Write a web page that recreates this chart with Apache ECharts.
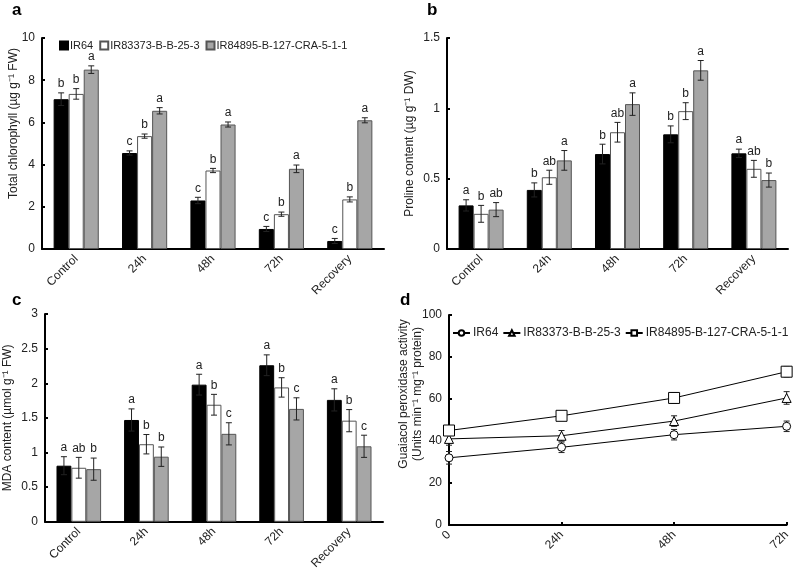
<!DOCTYPE html>
<html>
<head>
<meta charset="utf-8">
<script src="https://cdn.jsdelivr.net/npm/echarts@6/dist/echarts.min.js"></script>
<style>html,body{margin:0;padding:0;background:#fff;}#c{width:793px;height:572px;}</style>
</head>
<body>
<div id="c"></div>
<script>
const categories = ['Control', '24h', '48h', '72h', 'Recovery'];
const timeLabels = ['0', '24h', '48h', '72h'];
const seriesNames = ['IR64', 'IR83373-B-B-25-3', 'IR84895-B-127-CRA-5-1-1'];

// Panel a: total chlorophyll
const chlIR64 = [7.1, 4.55, 2.3, 0.95, 0.38];
const chlIR83373 = [7.35, 5.35, 3.72, 1.65, 2.35];
const chlIR84895 = [8.5, 6.55, 5.9, 3.8, 6.1];
const chlErrIR64 = [0.3, 0.1, 0.15, 0.12, 0.12];
const chlErrIR83373 = [0.25, 0.1, 0.1, 0.1, 0.12];
const chlErrIR84895 = [0.18, 0.15, 0.12, 0.18, 0.12];
const chlLetIR64 = ['b', 'c', 'c', 'c', 'c'];
const chlLetIR83373 = ['b', 'b', 'b', 'b', 'b'];
const chlLetIR84895 = ['a', 'a', 'a', 'a', 'a'];

// Panel b: proline
const proIR64 = [0.31, 0.42, 0.675, 0.815, 0.68];
const proIR83373 = [0.25, 0.51, 0.83, 0.98, 0.57];
const proIR84895 = [0.28, 0.63, 1.03, 1.27, 0.49];
const proErrIR64 = [0.04, 0.05, 0.07, 0.06, 0.03];
const proErrIR83373 = [0.06, 0.05, 0.07, 0.06, 0.06];
const proErrIR84895 = [0.05, 0.07, 0.08, 0.07, 0.05];
const proLetIR64 = ['a', 'b', 'b', 'b', 'a'];
const proLetIR83373 = ['b', 'ab', 'ab', 'b', 'ab'];
const proLetIR84895 = ['ab', 'a', 'a', 'a', 'b'];

// Panel c: MDA
const mdaIR64 = [0.81, 1.47, 1.98, 2.26, 1.76];
const mdaIR83373 = [0.78, 1.12, 1.69, 1.94, 1.46];
const mdaIR84895 = [0.76, 0.94, 1.27, 1.63, 1.09];
const mdaErrIR64 = [0.13, 0.16, 0.15, 0.15, 0.16];
const mdaErrIR83373 = [0.15, 0.14, 0.15, 0.14, 0.16];
const mdaErrIR84895 = [0.16, 0.14, 0.16, 0.16, 0.16];
const mdaLetIR64 = ['a', 'a', 'a', 'a', 'a'];
const mdaLetIR83373 = ['ab', 'b', 'b', 'b', 'b'];
const mdaLetIR84895 = ['b', 'b', 'c', 'c', 'c'];

// Panel d: guaiacol peroxidase
const gpxIR64 = [32, 37, 43, 47];
const gpxIR83373 = [41, 42.5, 49.5, 60.5];
const gpxIR84895 = [45, 52, 60.5, 73];
const gpxErrIR64 = [3, 2.5, 2.5, 2.5];
const gpxErrIR83373 = [3, 2.5, 2.5, 3];
const gpxErrIR84895 = [2, 2, 2.5, 2.5];

const FONT = 'Liberation Sans, Arial, sans-serif';
const TXT = '#222';
const barColors = ['#000000', '#ffffff', '#a6a6a6'];
const barBorders = ['#000000', '#555555', '#555555'];
const lineSymbols = ['circle', 'triangle', 'rect'];
const lineSymbolSizes = [8, 9, 11];
const CAT_GAP = 0.34;

const grids = [
  {left: 42, top: 38, width: 342, height: 211},
  {left: 447, top: 38, width: 341, height: 211},
  {left: 42, top: 314, width: 341, height: 212},
  {left: 449, top: 315, width: 339, height: 210}
];

function xCat(gi, data, showTicks, boundaryGap) {
  return {
    type: 'category', gridIndex: gi, data: data, boundaryGap: boundaryGap,
    axisLine: {lineStyle: {color: '#000', width: 2}},
    axisTick: {show: showTicks, inside: true, length: 3, alignWithLabel: true, lineStyle: {color: '#000', width: 2}},
    axisLabel: {rotate: 45, color: TXT, fontSize: 12, fontFamily: FONT, margin: 8, interval: 0}
  };
}
function yVal(gi, max, interval, name, nameGap, shift, fmt) {
  return {
    type: 'value', gridIndex: gi, min: 0, max: max, interval: interval,
    name: name, nameLocation: 'middle', nameGap: nameGap, nameMoveOverlap: false,
    nameTextStyle: {color: TXT, fontSize: 12, fontFamily: FONT, padding: shift > 0 ? [0, 0, 0, shift] : [0, -shift, 0, 0], lineHeight: 14},
    axisLine: {show: true, lineStyle: {color: '#000', width: 2}},
    axisTick: {show: true, inside: true, length: 3, lineStyle: {color: '#000', width: 2}},
    splitLine: {show: false},
    axisLabel: {color: TXT, fontSize: 12, fontFamily: FONT, margin: 7, formatter: fmt}
  };
}

const series = [];
function addBarPanel(gi, values, errs, lets) {
  for (let k = 0; k < 3; k++) {
    series.push({
      type: 'bar', name: seriesNames[k], xAxisIndex: gi, yAxisIndex: gi,
      data: values[k], barGap: '0%', barCategoryGap: (CAT_GAP * 100) + '%',
      itemStyle: {color: barColors[k], borderColor: barBorders[k], borderWidth: 1},
      silent: true
    });
  }
  for (let k = 0; k < 3; k++) {
    const letters = lets[k];
    series.push({
      type: 'custom', xAxisIndex: gi, yAxisIndex: gi, z: 5, silent: true,
      data: values[k].map((v, i) => [i, v, errs[k][i]]),
      renderItem: function (params, api) {
        const ci = api.value(0), v = api.value(1), e = api.value(2);
        const band = api.size([1, 0])[0];
        const bw = band * (1 - CAT_GAP) / 3;
        const c = api.coord([ci, v]);
        const x = c[0] + (k - 1) * bw;
        const yt = api.coord([ci, v + e])[1];
        const yb = api.coord([ci, v - e])[1];
        const st = {stroke: '#222', lineWidth: 1};
        return {
          type: 'group', children: [
            {type: 'line', shape: {x1: x, y1: yt, x2: x, y2: yb}, style: st},
            {type: 'line', shape: {x1: x - 3, y1: yt, x2: x + 3, y2: yt}, style: st},
            {type: 'line', shape: {x1: x - 3, y1: yb, x2: x + 3, y2: yb}, style: st},
            {type: 'text', x: x, y: yt - 3, style: {text: letters[params.dataIndex], fill: TXT, font: '12px ' + FONT, textAlign: 'center', textVerticalAlign: 'bottom'}}
          ]
        };
      }
    });
  }
}

addBarPanel(0, [chlIR64, chlIR83373, chlIR84895], [chlErrIR64, chlErrIR83373, chlErrIR84895], [chlLetIR64, chlLetIR83373, chlLetIR84895]);
addBarPanel(1, [proIR64, proIR83373, proIR84895], [proErrIR64, proErrIR83373, proErrIR84895], [proLetIR64, proLetIR83373, proLetIR84895]);
addBarPanel(2, [mdaIR64, mdaIR83373, mdaIR84895], [mdaErrIR64, mdaErrIR83373, mdaErrIR84895], [mdaLetIR64, mdaLetIR83373, mdaLetIR84895]);

const lineNames = seriesNames.map(n => n + '\u200b');
const gpx = [gpxIR64, gpxIR83373, gpxIR84895];
const gpxErr = [gpxErrIR64, gpxErrIR83373, gpxErrIR84895];
for (let k = 0; k < 3; k++) {
  series.push({
    type: 'line', name: lineNames[k], xAxisIndex: 3, yAxisIndex: 3,
    data: gpx[k], symbol: lineSymbols[k], symbolSize: lineSymbolSizes[k], showAllSymbol: true,
    lineStyle: {color: '#000', width: 1}, itemStyle: {color: '#fff', borderColor: '#000', borderWidth: 1},
    z: 4, silent: true, animation: false
  });
  series.push({
    type: 'custom', xAxisIndex: 3, yAxisIndex: 3, z: 3, silent: true,
    data: gpx[k].map((v, i) => [i, v, gpxErr[k][i]]),
    renderItem: function (params, api) {
      const ci = api.value(0), v = api.value(1), e = api.value(2);
      const x = api.coord([ci, v])[0];
      const yt = api.coord([ci, v + e])[1];
      const yb = api.coord([ci, v - e])[1];
      const st = {stroke: '#222', lineWidth: 1};
      return {
        type: 'group', children: [
          {type: 'line', shape: {x1: x, y1: yt, x2: x, y2: yb}, style: st},
          {type: 'line', shape: {x1: x - 3, y1: yt, x2: x + 3, y2: yt}, style: st},
          {type: 'line', shape: {x1: x - 3, y1: yb, x2: x + 3, y2: yb}, style: st}
        ]
      };
    }
  });
}

const chart = echarts.init(document.getElementById('c'), null, {renderer: 'canvas'});
chart.setOption({
  animation: false,
  backgroundColor: '#fff',
  textStyle: {fontFamily: FONT},
  grid: grids,
  xAxis: [
    xCat(0, categories, false, true),
    xCat(1, categories, false, true),
    xCat(2, categories, false, true),
    xCat(3, timeLabels, true, false)
  ],
  yAxis: [
    yVal(0, 10, 2, 'Total chlorophyll (\u00b5g g\u207b\u00b9 FW)', 21, 40),
    yVal(1, 1.5, 0.5, 'Proline content (\u00b5g g\u207b\u00b9 DW)', 30, 0, v => String(v)),
    yVal(2, 3, 0.5, 'MDA content (\u00b5mol g\u207b\u00b9 FW)', 30, 0, v => String(v)),
    yVal(3, 100, 20, 'Guaiacol peroxidase activity\n(Units min\u207b\u00b9 mg\u207b\u00b9 protein)', 24, 52)
  ],
  legend: [
    {
      data: seriesNames, left: 54, top: 35, orient: 'horizontal', icon: 'rect',
      itemWidth: 8, itemHeight: 8, itemGap: 6, selectedMode: false,
      textStyle: {color: TXT, fontSize: 11, fontFamily: FONT, padding: [0, 0, 0, -3]}
    },
    {
      data: lineNames, left: 447, top: 322, width: 346, orient: 'horizontal',
      itemWidth: 17, itemHeight: 7, itemGap: 4, selectedMode: false,
      textStyle: {color: TXT, fontSize: 12, fontFamily: FONT, padding: [0, 0, 0, -2]}
    }
  ],
  graphic: [
    {type: 'text', left: 12, top: 2, style: {text: 'a', font: 'bold 17px ' + FONT, fill: '#000'}},
    {type: 'text', left: 427, top: 2, style: {text: 'b', font: 'bold 17px ' + FONT, fill: '#000'}},
    {type: 'text', left: 12, top: 292, style: {text: 'c', font: 'bold 17px ' + FONT, fill: '#000'}},
    {type: 'text', left: 400, top: 292, style: {text: 'd', font: 'bold 17px ' + FONT, fill: '#000'}}
  ],
  series: series
});
</script>
</body>
</html>
